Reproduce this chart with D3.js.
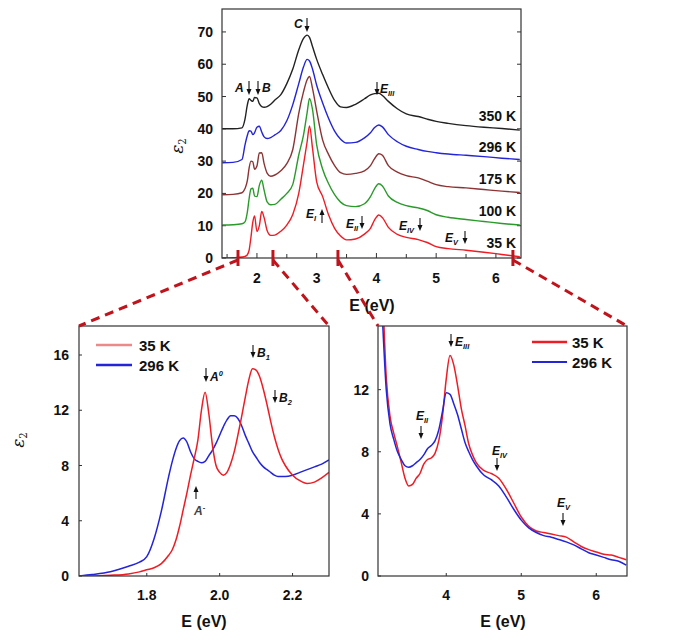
<!DOCTYPE html>
<html><head><meta charset="utf-8">
<script src="https://cdn.jsdelivr.net/npm/d3@7"></script>
<style>
html,body{margin:0;padding:0;background:#fff;}
svg{display:block;font-family:"Liberation Sans",Arial,sans-serif;}
</style></head>
<body>
<svg id="c" width="686" height="640"></svg>
<script>
// ---------- DATA ----------
// Top panel: shared energy grid (eV) and eps2 (without vertical offset)
const topE = [1.42,1.6,1.75,1.8,1.84,1.87,1.9,1.93,1.96,2.0,2.04,2.08,2.12,2.17,2.23,2.3,2.4,2.5,2.6,2.7,2.78,2.84,2.88,2.93,3.0,3.1,3.2,3.3,3.4,3.5,3.65,3.8,3.9,3.97,4.04,4.1,4.2,4.35,4.5,4.7,4.85,5.0,5.2,5.5,5.8,6.1,6.4];
const top35K  = [0,0.1,0.3,0.5,1.0,2.5,6.5,11,13,8.2,10,14.4,12.5,8.5,7.0,7.1,8.3,10.2,13.5,20,29,36,40.9,34,23.6,19,13.3,9.2,6.8,5.6,5.9,7.4,9.2,11.8,13.3,12.5,9.5,7.3,6.4,5.7,4.8,3.5,2.9,2.4,1.8,1.1,0.4];
const top100K = [0.2,0.3,0.6,1.2,4.3,8.5,11.4,11.6,9.2,9.0,12.5,14.1,11.0,7.4,6.5,6.6,8.2,10.0,12.8,21.9,28.1,35,39.4,36,25,17.5,13,9.6,7.3,6.2,5.9,6.8,9.0,11.5,13.0,12.3,9.2,7.2,6.2,5.5,4.7,3.4,2.6,1.9,1.3,0.7,0.2];
const top175K = [-0.4,-0.3,0.2,1.5,4.0,8.0,10.0,9.8,7.5,8.5,12.5,12.6,9.2,6.3,5.3,5.7,7.0,9.2,13.6,24.8,31.5,35.2,36.2,32.5,25.5,16.5,12.0,8.6,6.4,5.9,6.2,7.0,8.6,10.8,12.3,11.8,8.6,6.6,5.5,4.8,3.8,2.7,2.1,1.7,1.2,0.7,0.3];
const top296K = [-0.5,-0.4,0.5,5.0,8.0,9.4,9.3,8.2,8.8,10.5,10.8,9.0,7.5,7.0,7.3,8.1,9.5,12.5,17.5,24,29.2,31.5,31,28.5,23.5,18,13.2,9.3,6.8,5.6,5.8,7.2,8.8,10.4,11.2,10.6,8.2,6.0,4.6,3.6,3.0,2.6,2.2,1.8,1.4,0.9,0.5];
const top350K = [0,0,0.3,3.0,7.5,9.3,8.8,8.5,9.7,9.6,7.8,6.9,6.7,6.9,7.6,8.9,10.6,14,18.5,24.5,28,29,28.3,25.5,21.5,16.8,12.5,8.8,6.8,6.6,7.6,9.3,10.5,10.9,11.0,10.3,8.5,6.2,4.6,3.8,3.0,2.3,1.7,1.0,0.5,0.1,-0.4];
const topLabels  = ["35 K","100 K","175 K","296 K","350 K"];
const topOffsets = [0,10,20,30,40];
const topYTicks  = [0,10,20,30,40,50,60,70];
const topXTicks  = [2,3,4,5,6];
const zoomMarks  = [1.683,2.268,3.356,6.285];

// Bottom-left panel (band edge)
const blE = [1.615,1.65,1.7,1.75,1.78,1.8,1.82,1.84,1.86,1.87,1.88,1.89,1.9,1.91,1.92,1.93,1.94,1.95,1.96,1.97,1.98,1.99,2.0,2.01,2.02,2.03,2.04,2.05,2.06,2.07,2.08,2.09,2.1,2.11,2.12,2.13,2.14,2.15,2.16,2.17,2.18,2.2,2.22,2.24,2.26,2.28,2.3];
const bl35K  = [0,0,0.05,0.15,0.3,0.45,0.6,0.9,1.5,1.9,2.6,3.6,4.8,6.0,7.3,8.5,9.8,12.0,13.3,11.8,9.5,8.0,7.5,7.3,7.5,8.1,9.0,10.2,11.5,12.9,14.2,15.0,14.9,14.4,13.5,12.4,11.2,10.1,9.2,8.5,8.0,7.3,6.9,6.7,6.8,7.1,7.5];
const bl296K = [0,0.1,0.3,0.7,1.0,1.4,2.7,4.7,7.2,8.3,9.2,9.8,10.0,9.7,9.0,8.5,8.3,8.2,8.3,8.7,9.1,9.6,10.2,10.8,11.3,11.6,11.6,11.4,10.9,10.2,9.6,9.0,8.6,8.2,7.9,7.7,7.5,7.3,7.2,7.2,7.2,7.3,7.5,7.7,7.9,8.1,8.4];
const blXTicks = [1.8,2.0,2.2];
const blYTicks = [0,4,8,12,16];

// Bottom-right panel (high energy)
const brE = [3.1,3.15,3.2,3.25,3.3,3.35,3.4,3.45,3.5,3.55,3.6,3.65,3.7,3.75,3.8,3.85,3.9,3.95,4.0,4.05,4.1,4.15,4.2,4.25,4.3,4.35,4.4,4.5,4.6,4.7,4.8,4.9,5.0,5.1,5.2,5.3,5.4,5.5,5.6,5.7,5.8,5.9,6.0,6.1,6.2,6.3,6.4];
const br35K  = [24,18.5,12.8,10.3,9.2,8.3,7.3,6.3,5.8,5.9,6.3,6.6,7.2,7.5,7.6,7.9,8.7,10.3,12.7,14.2,13.6,12.3,10.8,9.7,8.5,7.8,7.3,6.8,6.6,6.3,5.6,4.7,3.8,3.2,2.9,2.8,2.7,2.6,2.5,2.2,1.9,1.7,1.55,1.4,1.35,1.2,1.05];
const br296K = [22,16.5,12.0,9.8,8.8,8.0,7.5,7.1,7.0,7.1,7.3,7.5,7.8,8.2,8.4,8.7,9.4,10.6,11.8,11.7,11.1,10.4,9.5,8.6,8.0,7.5,7.1,6.5,6.2,5.8,5.1,4.3,3.6,3.1,2.8,2.6,2.5,2.35,2.2,2.0,1.75,1.5,1.35,1.2,1.05,0.95,0.7];
const brXTicks = [4,5,6];
const brYTicks = [0,4,8,12];

// ---------- DRAWING ----------
const svg = d3.select("#c");
const FONT = '"Liberation Sans",Arial,sans-serif';
const colTop = ["#ee1c24","#2a9a2a","#8c3434","#2424d8","#222222"];
const RED = "#ee1c24", BLUE = "#2424d8", DRED = "#c0141c";

const defs = svg.append("defs");

function panel(id, L, T, R, B, xd, yd) {
  const x = d3.scaleLinear().domain(xd).range([L, R]);
  const y = d3.scaleLinear().domain(yd).range([B, T]);
  defs.append("clipPath").attr("id", id).append("rect")
    .attr("x", L).attr("y", T).attr("width", R - L).attr("height", B - T);
  return {x, y, L, T, R, B, id};
}
function frame(p) {
  svg.append("rect").attr("x", p.L).attr("y", p.T).attr("width", p.R - p.L).attr("height", p.B - p.T)
    .attr("fill", "none").attr("stroke", "#333").attr("stroke-width", 1.2);
}
function curve(p, xs, ys, color, w, off) {
  const line = d3.line().x(d => p.x(d[0])).y(d => p.y(d[1] + (off || 0))).curve(d3.curveMonotoneX);
  svg.append("path").attr("clip-path", `url(#${p.id})`)
    .attr("d", line(xs.map((e, i) => [e, ys[i]])))
    .attr("fill", "none").attr("stroke", color).attr("stroke-width", w).attr("stroke-linejoin", "round");
}
function arrow(x, y1, y2) {
  svg.append("line").attr("x1", x).attr("x2", x).attr("y1", y1).attr("y2", y2 - (y2 > y1 ? 5 : -5))
    .attr("stroke", "#111").attr("stroke-width", 1.1);
  const d = y2 > y1 ? `M${x-2.5},${y2-6} L${x},${y2} L${x+2.5},${y2-6} Z` : `M${x-2.5},${y2+6} L${x},${y2} L${x+2.5},${y2+6} Z`;
  svg.append("path").attr("d", d).attr("fill", "#111");
}
function lab(x, y, main, sub, sup, size, color) {
  const t = svg.append("text").attr("x", x).attr("y", y).attr("font-family", FONT)
    .attr("font-size", size || 12).attr("font-weight", "bold").attr("font-style", "italic")
    .attr("fill", color || "#111").text(main);
  if (sub) t.append("tspan").attr("font-size", (size || 12) * 0.62).attr("dy", 3).text(sub);
  if (sup) t.append("tspan").attr("font-size", (size || 12) * 0.62).attr("dy", -5).text(sup);
  return t;
}
function txt(x, y, s, size, anchor) {
  return svg.append("text").attr("x", x).attr("y", y).attr("font-family", FONT)
    .attr("font-size", size).attr("font-weight", "bold").attr("text-anchor", anchor || "start")
    .attr("fill", "#111").text(s);
}
function epsLabel(x, y, size) {
  const t = svg.append("text").attr("transform", `translate(${x},${y}) rotate(-90)`)
    .attr("font-family", "DejaVu Serif, serif").attr("font-size", size).attr("font-style", "italic")
    .attr("text-anchor", "middle").attr("fill", "#111").text("\u03B5");
  t.append("tspan").attr("font-size", size * 0.6).attr("dy", 3).attr("font-style", "normal").text("2");
}

// ---- Top panel ----
const P = panel("cp0", 222, 9, 521, 258, [1.415, 6.42], [0, 77.1]);
const tg = svg.append("g").attr("stroke", "#333").attr("stroke-width", 1);
d3.range(1.5, 6.41, 0.5).forEach(v => {
  const len = Math.abs(v - Math.round(v)) < 1e-6 ? 5 : 4;
  tg.append("line").attr("x1", P.x(v)).attr("x2", P.x(v)).attr("y1", P.B).attr("y2", P.B - len);
});
topYTicks.forEach(v => {
  tg.append("line").attr("x1", P.L).attr("x2", P.L + 4).attr("y1", P.y(v)).attr("y2", P.y(v));
  tg.append("line").attr("x1", P.R).attr("x2", P.R - 4).attr("y1", P.y(v)).attr("y2", P.y(v));
});
const topSeries = [top35K, top100K, top175K, top296K, top350K];
topSeries.forEach((s, i) => curve(P, topE, s, colTop[i], 1.4, topOffsets[i]));
frame(P);
topYTicks.forEach(v => txt(213, P.y(v) + 5, String(v), 14, "end"));
topXTicks.forEach(v => txt(P.x(v), 283, String(v), 14, "middle"));
txt(372, 311, "E (eV)", 16, "middle");
epsLabel(183, 146, 17);
const tLabY = [248, 216, 184, 152, 121];
topLabels.forEach((s, i) => txt(516, tLabY[i], s, 14, "end"));

// annotations top
lab(235, 92, "A", null, null, 12); arrow(249, 81, 95);
arrow(258, 81, 95); lab(262, 92, "B", null, null, 12);
lab(294, 28, "C", null, null, 12); arrow(307, 18, 32);
arrow(377, 82, 95); lab(380, 93, "E", "III", null, 12);
lab(306, 218, "E", "I", null, 12); arrow(322, 223, 209);
lab(346, 228, "E", "II", null, 12); arrow(362, 216, 229);
lab(399, 230, "E", "IV", null, 12); arrow(420, 218, 231);
lab(445, 242, "E", "V", null, 12); arrow(465, 231, 244);

// ---- Bottom-left ----
const BL = panel("cp1", 79, 326, 329, 576, [1.614, 2.3], [0, 18.1]);
const bg = svg.append("g").attr("stroke", "#333").attr("stroke-width", 1);
blXTicks.forEach(v => bg.append("line").attr("x1", BL.x(v)).attr("x2", BL.x(v)).attr("y1", BL.B).attr("y2", BL.B - 3));
blYTicks.forEach(v => bg.append("line").attr("x1", BL.L).attr("x2", BL.L + 3).attr("y1", BL.y(v)).attr("y2", BL.y(v)));
curve(BL, blE, bl296K, BLUE, 1.5);
curve(BL, blE, bl35K, RED, 1.5);
frame(BL);
blYTicks.forEach(v => txt(69, BL.y(v) + 5, String(v), 14, "end"));
blXTicks.forEach(v => txt(BL.x(v), 600, v.toFixed(1), 14, "middle"));
txt(204, 627, "E (eV)", 16, "middle");
epsLabel(24, 440, 17);
svg.append("line").attr("x1", 96).attr("x2", 132).attr("y1", 345).attr("y2", 345).attr("stroke", "#ec8a8a").attr("stroke-width", 2.5);
svg.append("line").attr("x1", 96).attr("x2", 132).attr("y1", 365).attr("y2", 365).attr("stroke", BLUE).attr("stroke-width", 2.5);
txt(139, 351, "35 K", 15, "start");
txt(139, 371, "296 K", 15, "start");
arrow(206, 368, 382); lab(210, 381, "A", null, "0", 12);
arrow(253, 345, 358); lab(257, 357, "B", "1", null, 12);
arrow(275, 390, 403); lab(279, 402, "B", "2", null, 12);
arrow(196, 499, 486); lab(194, 515, "A", null, "-", 12, "#444");

// ---- Bottom-right ----
const BR = panel("cp2", 378, 326, 627, 576, [3.09, 6.41], [0, 16.1]);
const rg = svg.append("g").attr("stroke", "#333").attr("stroke-width", 1);
brXTicks.forEach(v => rg.append("line").attr("x1", BR.x(v)).attr("x2", BR.x(v)).attr("y1", BR.B).attr("y2", BR.B - 3));
brYTicks.forEach(v => rg.append("line").attr("x1", BR.L).attr("x2", BR.L + 3).attr("y1", BR.y(v)).attr("y2", BR.y(v)));
curve(BR, brE, br35K, RED, 1.5);
curve(BR, brE, br296K, BLUE, 1.5);
frame(BR);
brYTicks.forEach(v => txt(369, BR.y(v) + 5, String(v), 14, "end"));
brXTicks.forEach(v => txt(BR.x(v), 600, String(v), 14, "middle"));
txt(503, 627, "E (eV)", 16, "middle");
svg.append("line").attr("x1", 532).attr("x2", 567).attr("y1", 342).attr("y2", 342).attr("stroke", RED).attr("stroke-width", 2.5);
svg.append("line").attr("x1", 532).attr("x2", 567).attr("y1", 362).attr("y2", 362).attr("stroke", BLUE).attr("stroke-width", 1.8);
txt(572, 348, "35 K", 15, "start");
txt(572, 368, "296 K", 15, "start");
arrow(451, 334, 347); lab(455, 346, "E", "III", null, 12);
lab(416, 420, "E", "II", null, 12); arrow(421, 426, 439);
lab(492, 455, "E", "IV", null, 12); arrow(497, 458, 471);
lab(557, 507, "E", "V", null, 12); arrow(563, 513, 526);

// ---- zoom connectors ----
const zg = svg.append("g");
const conn = [[zoomMarks[0], BL.L, BL.T], [zoomMarks[1], BL.R, BL.T], [zoomMarks[2], BR.L, BR.T], [zoomMarks[3], BR.R, BR.T]];
conn.forEach(c => {
  const mx = P.x(c[0]);
  zg.append("line").attr("x1", mx).attr("y1", P.B + 2).attr("x2", c[1]).attr("y2", c[2])
    .attr("stroke", DRED).attr("stroke-width", 3).attr("stroke-dasharray", "9,6");
  zg.append("line").attr("x1", mx).attr("x2", mx).attr("y1", P.B - 8).attr("y2", P.B + 8)
    .attr("stroke", DRED).attr("stroke-width", 3);
});
</script>
</body></html>
